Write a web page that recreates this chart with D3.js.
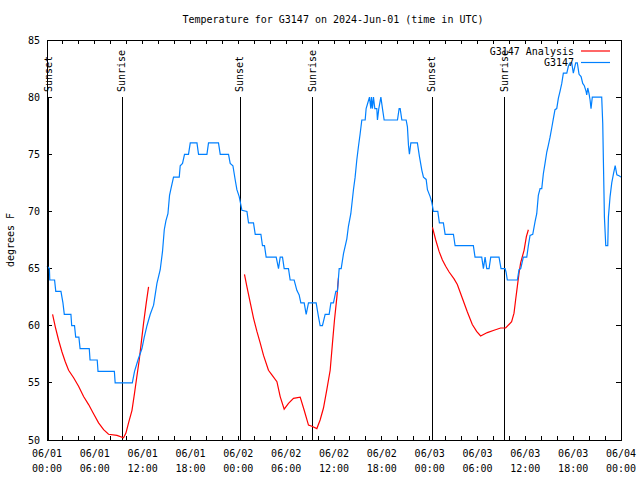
<!DOCTYPE html>
<html>
<head>
<meta charset="utf-8">
<script src="https://cdn.jsdelivr.net/npm/d3@7"></script>
<style>
  html, body { margin: 0; padding: 0; background: #fff; }
  text { font-family: "DejaVu Sans Mono", "Liberation Mono", monospace; font-size: 10px; fill: #000; }
</style>
</head>
<body>
<svg id="chart" width="640" height="480"></svg>
<script>
// ---- Data (hours since 2024-06-01 00:00 UTC) ----
const titleText = "Temperature for G3147 on 2024-Jun-01 (time in UTC)";
const yLabel = "degrees F";
const seriesNames = ["G3147 Analysis", "G3147"];

const obsHours = [0.0,0.3,0.35,0.95,1.1,1.75,2.0,2.17,3.0,3.1,3.45,3.6,4.0,4.15,5.3,5.4,6.3,6.4,8.45,8.55,10.7,
  10.98,11.41,11.91,12.2,12.54,12.95,13.37,13.79,14.2,14.49,14.71,14.92,15.17,15.37,15.55,15.87,16.59,16.71,17.0,17.25,17.75,17.97,18.81,19.01,20.06,20.26,21.51,21.73,22.77,22.98,23.32,23.61,23.82,24.11,24.45,25.08,25.28,25.9,26.12,26.83,27.03,27.28,27.49,28.75,29.04,29.25,29.54,29.75,30.29,30.5,31.0,31.34,31.63,31.84,32.26,32.51,32.8,33.76,34.05,34.26,34.55,34.89,35.39,35.61,35.93,36.23,36.43,36.65,36.9,37.19,37.61,37.81,38.11,38.44,38.65,38.86,39.07,39.28,39.49,39.91,40.03,40.2,40.45,40.62,40.7,40.82,40.95,41.12,41.37,41.45,41.62,41.88,42.08,42.29,43.96,44.17,44.3,44.51,45.05,45.21,45.34,45.46,45.64,46.46,46.72,47.02,47.22,47.56,47.72,48.06,48.27,48.47,49.02,49.22,49.72,49.94,50.98,51.19,53.48,53.69,54.53,54.74,54.95,55.16,55.45,55.66,56.7,56.95,57.46,57.58,57.74,59.0,59.21,59.42,59.75,60.18,60.38,60.59,60.93,61.22,61.43,61.63,61.85,62.06,62.26,62.47,62.69,62.89,63.1,63.31,63.51,63.72,63.94,64.14,64.35,64.57,64.77,65.2,65.4,65.61,65.82,66.02,66.32,66.52,66.74,66.99,67.2,67.4,67.62,67.7,67.83,67.99,68.12,68.24,68.4,69.58,69.71,69.79,69.92,70.09,70.34,70.42,70.63,70.84,71.06,71.27,71.48,71.81,72.0];
const obsTemps = [65.2,65,64,64,63,63,62,61,61,60,60,59,59,58,58,57,57,56,56,55,55,
  56,57,58,59,60,61,61.8,63.7,64.9,66.5,68.4,69.2,69.8,71.4,72,73,73,74,74.2,75,75,76,76,75,75,76,76,75,75,74.2,74,72.75,71.9,71.3,70.1,70,69,69,68,68,67,67,66,66,65,66,66,65,65,64,64,63.1,62.7,62,62,61,62,62,60.8,60,60,61,61,62,62,63,63,65,65,66.3,67.6,68.7,69.8,71.9,73,74.5,75.7,76.8,78,78,79,79.4,80,79,80,79,80,79,79,78,79,80,79,78,78,79,79,78,78,77.4,75.8,75,76,76,74.8,73.6,73,72.8,71.9,71.3,70.8,70,70,69,69,68,68,67,67,66,66,65,66,65,65,66,66,65,65,64.7,64,64,64.9,65,66,66,67,67.9,68,69.1,69.8,71.4,72,72,73.3,74.2,75.2,75.8,76.5,77.3,78.1,78.9,79,79.9,80.5,81.2,82.1,82.1,82.7,83,83,82.1,83,83,82,81.8,81.2,81,80.5,80.2,80.8,80.3,79.75,79,80,80,77.7,74.5,69.5,67,67,69.5,71.3,72.5,73.3,74,73.2,73.1,73];

// analysis series: null breaks the line between the three runs
const anaHours = [0.7,1.04,1.45,1.88,2.29,2.71,3.34,3.96,4.59,5.22,5.84,6.47,7.1,7.72,8.78,9.6,9.9,10.23,10.66,10.98,11.28,11.57,11.82,12.11,12.45,12.74,
  null,
  24.77,25.08,25.5,25.91,26.33,26.74,27.16,27.78,28.21,28.84,29.25,29.75,30.29,30.92,31.76,32.26,32.8,33.22,33.85,34.26,34.68,35.1,35.52,35.81,36.06,36.36,36.56,
  null,
  48.35,48.76,49.18,49.6,50.01,50.44,51.06,51.47,52.1,52.73,53.35,53.89,54.39,55.23,56.07,56.9,57.53,58.28,58.58,58.78,58.99,59.21,59.41,59.84,60.13,60.38];
const anaTemps = [61,59.9,58.75,57.7,56.85,56.1,55.45,54.7,53.8,53.1,52.3,51.5,50.9,50.5,50.4,50.2,50.6,51.5,52.6,54.1,55.6,57,58.5,60.2,62,63.4,
  null,
  64.5,63.4,62,60.65,59.5,58.5,57.4,56.1,55.7,55.1,53.8,52.7,53.2,53.65,53.75,52.6,51.3,51.2,51,51.75,52.8,54.4,56.1,58.5,60.5,62.5,64.2,
  null,
  68.6,67.5,66.5,65.75,65.2,64.7,64.1,63.6,62.4,61.2,60.1,59.5,59.1,59.4,59.6,59.8,59.8,60.35,61.1,62.25,63.4,64.6,65.5,66.6,67.8,68.4];

const sunHours = [0.17, 9.35, 24.15, 33.3, 48.25, 57.37];
const sunLabels = ["Sunset", "Sunrise", "Sunset", "Sunrise", "Sunset", "Sunrise"];

const xTickHours = [0, 6, 12, 18, 24, 30, 36, 42, 48, 54, 60, 66, 72];
const xTickDates = ["06/01","06/01","06/01","06/01","06/02","06/02","06/02","06/02","06/03","06/03","06/03","06/03","06/04"];
const xTickTimes = ["00:00","06:00","12:00","18:00","00:00","06:00","12:00","18:00","00:00","06:00","12:00","18:00","00:00"];
const yTicks = [50, 55, 60, 65, 70, 75, 80, 85];

// ---- Layout ----
const L = 47, R = 621, T = 40, B = 440;
const svg = d3.select("#chart");
const x = d3.scaleLinear().domain([0, 72]).range([L, R]);
const y = d3.scaleLinear().domain([50, 85]).range([B, T]);

// title
svg.append("text").attr("x", 333).attr("y", 23).attr("text-anchor", "middle").text(titleText);
// y label
svg.append("text").attr("transform", "translate(14,240) rotate(-90)").attr("text-anchor", "middle").text(yLabel);

// ticks: minor every 2h, top & bottom, inward
const minor = d3.range(2, 72, 2);
const tickG = svg.append("g").attr("stroke", "#000").attr("shape-rendering", "crispEdges");
minor.forEach(h => {
  tickG.append("line").attr("x1", x(h)).attr("x2", x(h)).attr("y1", B).attr("y2", B - 4);
  tickG.append("line").attr("x1", x(h)).attr("x2", x(h)).attr("y1", T).attr("y2", T + 4);
});
yTicks.forEach(v => {
  tickG.append("line").attr("x1", L).attr("x2", L + 5).attr("y1", y(v)).attr("y2", y(v));
  tickG.append("line").attr("x1", R).attr("x2", R - 5).attr("y1", y(v)).attr("y2", y(v));
});

// y tick labels
svg.append("g").selectAll("text").data(yTicks).join("text")
  .attr("x", L - 7).attr("y", d => y(d)).attr("dy", "0.35em").attr("text-anchor", "end").text(d => d);

// x tick labels
const xl = svg.append("g");
xTickHours.forEach((h, i) => {
  xl.append("text").attr("x", x(h)).attr("y", 457).attr("text-anchor", "middle").text(xTickDates[i]);
  xl.append("text").attr("x", x(h)).attr("y", 472).attr("text-anchor", "middle").text(xTickTimes[i]);
});

// sunrise / sunset lines
sunHours.forEach((h, i) => {
  svg.append("line").attr("x1", Math.round(x(h)) + 0.5).attr("x2", Math.round(x(h)) + 0.5)
    .attr("y1", 97).attr("y2", B).attr("stroke", "#000").attr("stroke-width", 1)
    .attr("shape-rendering", "crispEdges");
  svg.append("text").attr("transform", `translate(${x(h)},92) rotate(-90)`)
    .attr("dy", "0.35em").attr("text-anchor", "start").text(sunLabels[i]);
});

// data lines
const obs = obsHours.map((h, i) => [h, obsTemps[i]]);
const ana = anaHours.map((h, i) => [h, anaTemps[i]]);
const line = d3.line().defined(d => d[0] !== null && d[1] !== null).x(d => x(d[0])).y(d => y(d[1]));

svg.append("path").attr("d", line(ana)).attr("fill", "none").attr("stroke", "#ff0000").attr("stroke-width", 1.2);
svg.append("path").attr("d", line(obs)).attr("fill", "none").attr("stroke", "#0080ff").attr("stroke-width", 1.2);

// frame
svg.append("rect").attr("x", L).attr("y", T).attr("width", R - L).attr("height", B - T)
  .attr("fill", "none").attr("stroke", "#000").attr("shape-rendering", "crispEdges");

// legend
const legColors = ["#ff0000", "#0080ff"];
seriesNames.forEach((n, i) => {
  const ly = 51 + i * 11.5;
  svg.append("text").attr("x", 574).attr("y", ly).attr("dy", "0.35em").attr("text-anchor", "end").text(n);
  svg.append("line").attr("x1", 581).attr("x2", 610).attr("y1", ly).attr("y2", ly)
    .attr("stroke", legColors[i]).attr("stroke-width", 1.2);
});
</script>
</body>
</html>
